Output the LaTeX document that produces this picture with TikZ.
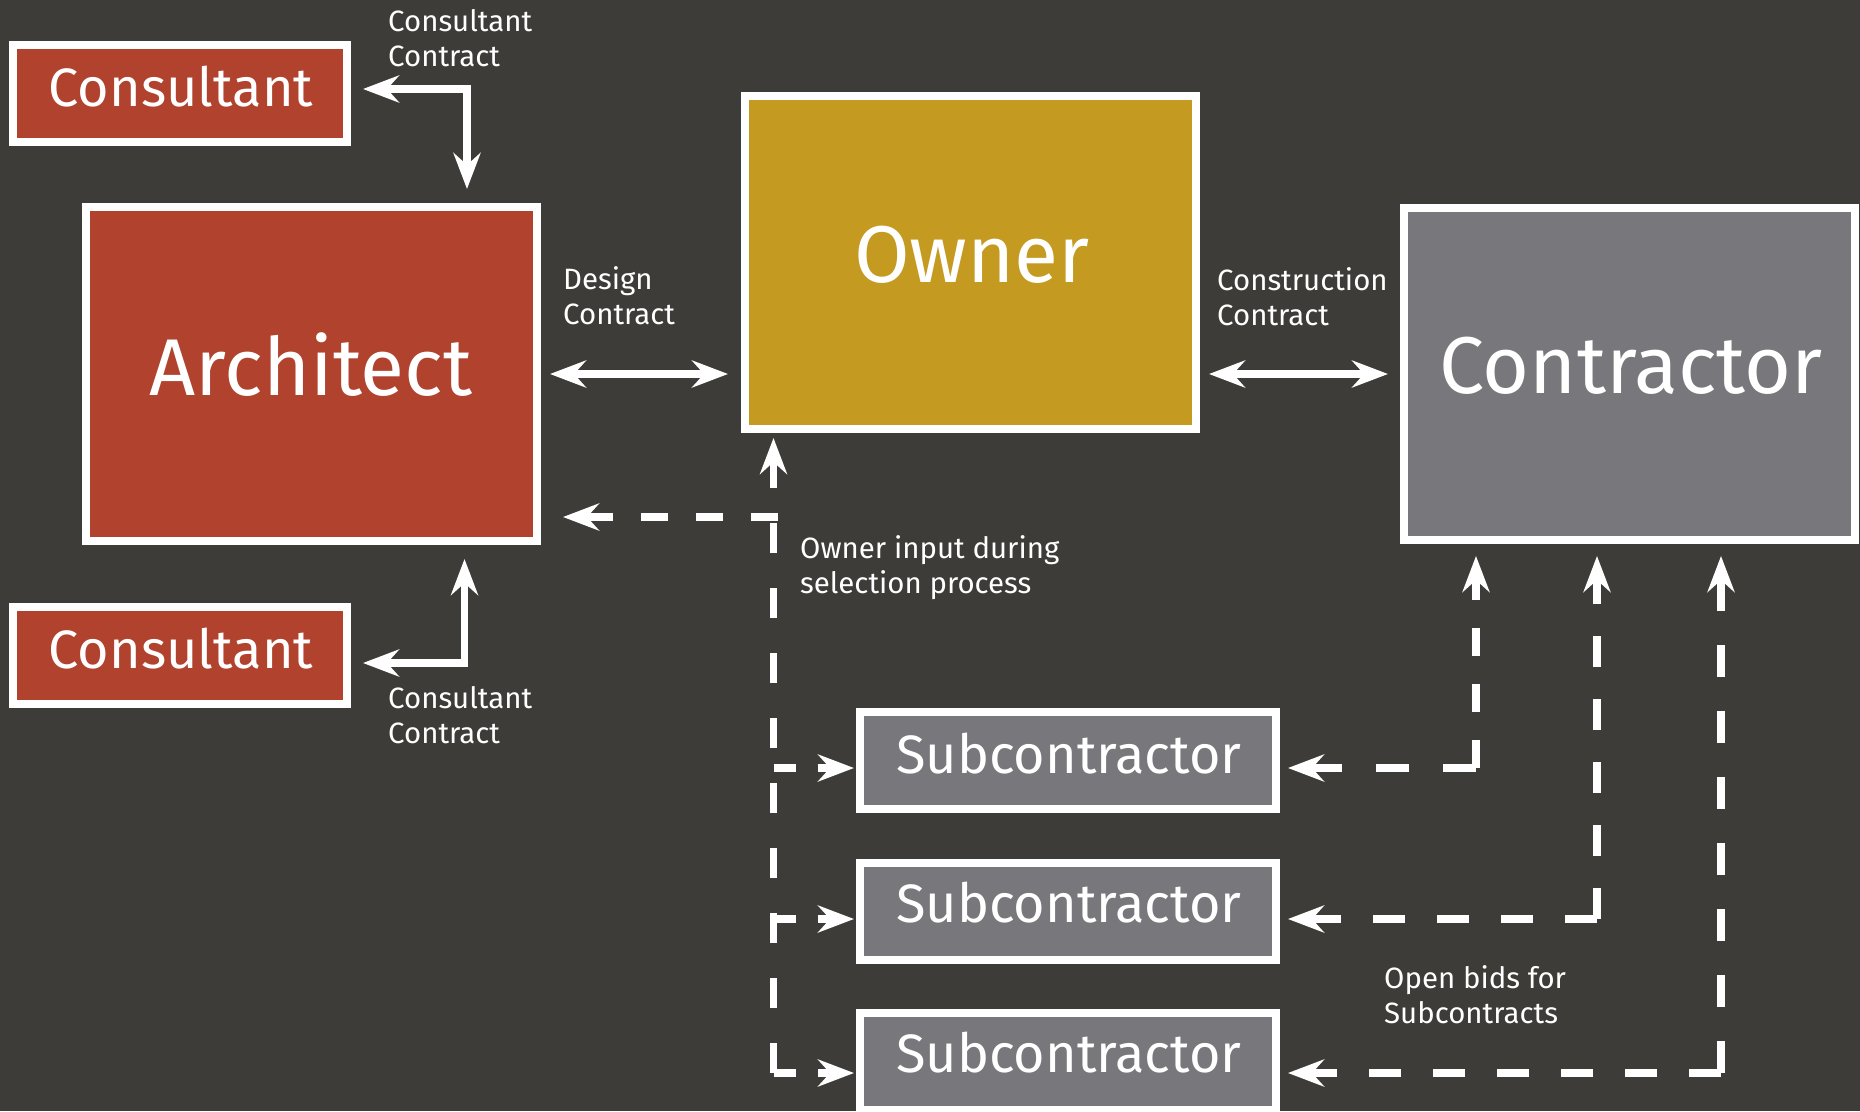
\documentclass[tikz,border=0pt]{standalone}
\usepackage{fontspec}
\setmainfont{Fira Sans}
\usetikzlibrary{arrows.meta,calc}
\definecolor{bg}{HTML}{3D3C38}
\definecolor{archred}{HTML}{B1432E}
\definecolor{ownergold}{HTML}{C59A20}
\definecolor{contgray}{HTML}{78787C}
\begin{document}
\begin{tikzpicture}[x=1pt,y=-1pt,
  >={Stealth[length=36pt,width=27pt,inset=12pt]},
  box/.style={draw=white, line width=8pt, inner sep=0pt, rectangle},
  bigbox/.style={box, minimum width=451pt, minimum height=333pt},
  smallbox/.style={box, minimum height=97pt},
  bigtxt/.style={text=white, font=\fontsize{80.5}{90}\selectfont, anchor=base, inner sep=0pt},
  midtxt/.style={text=white, font=\fontsize{54}{60}\selectfont, anchor=base, inner sep=0pt},
  subtxt/.style={text=white, font=\fontsize{54}{60}\selectfont, anchor=base, inner sep=0pt},
  lbl/.style={text=white, font=\fontsize{29.4}{35}\selectfont, align=left, anchor=base west, inner sep=0pt},
  solidarr/.style={draw=white, line width=7.5pt},
  dashline/.style={draw=white, line width=7.5pt}
]
\fill[bg] (0,0) rectangle (1860,1111);
\useasboundingbox (0,0) rectangle (1860,1111);

% boxes
\node[smallbox, minimum width=334pt, fill=archred] (consTop) at (180,93.5) {};
\node[smallbox, minimum width=334pt, fill=archred] (consBot) at (180,655.5) {};
\node[bigbox, minimum height=334pt, fill=archred] (arch) at (311.5,374) {};
\node[bigbox, fill=ownergold] (owner) at (970.5,262.5) {};
\node[bigbox, minimum height=332pt, fill=contgray] (contractor) at (1629.5,374) {};
\node[smallbox, minimum width=416pt, fill=contgray] (sub1) at (1068,760.5) {};
\node[smallbox, minimum width=416pt, fill=contgray] (sub2) at (1068,911.5) {};
\node[smallbox, minimum width=416pt, fill=contgray] (sub3) at (1068,1061.5) {};

% box texts
\node[midtxt] (consTopT) at (181,106) {Consultant};
\node[midtxt] (consBotT) at (181,668) {Consultant};
\node[bigtxt] (archT) at (311,395) {Architect};
\node[bigtxt] (ownerT) at (972,282) {Owner};
\node[bigtxt] (contractorT) at (1631,393) {Contractor};
\node[subtxt] (sub1T) at (1069,773) {Subcontractor};
\node[subtxt] (sub2T) at (1069,922) {Subcontractor};
\node[subtxt] (sub3T) at (1069,1072) {Subcontractor};

% labels (anchored at the baseline of their last line)
\node[lbl] (cc1) at (388,66) {Consultant\\Contract};
\node[lbl] (cc2) at (388,743) {Consultant\\Contract};
\node[lbl] (dc) at (563,324) {Design\\Contract};
\node[lbl] (ccon) at (1217,325) {Construction\\Contract};
\node[lbl] (oi) at (800,593) {Owner input during\\selection process};
\node[lbl] (ob) at (1384,1023) {Open bids for\\Subcontracts};

% solid arrows
\draw[solidarr, <->, shorten <=12pt, shorten >=14pt] ([yshift=4.5pt]consTop.east) -| ([xshift=155.5pt]arch.north);
\draw[solidarr, <->, shorten <=12pt, shorten >=14pt] ([yshift=-7.5pt]consBot.east) -| ([xshift=153pt]arch.south);
\draw[solidarr, <->, shorten <=9pt, shorten >=13pt] (arch.east) -- (arch.east -| owner.west);
\draw[solidarr, <->, shorten <=9pt, shorten >=12pt] (contractor.west -| owner.east) -- (contractor.west);

% helper coordinates
\coordinate (ovx) at ([xshift=32.5pt]owner.south west);
\coordinate (aw) at ([yshift=-143pt]arch.east);
\coordinate (s1w) at ([yshift=-7.5pt]sub1.west);
\coordinate (s2w) at ([yshift=-7.5pt]sub2.west);
\coordinate (s3w) at ([yshift=-11.5pt]sub3.west);
\coordinate (s1e) at ([yshift=-7.5pt]sub1.east);
\coordinate (s2e) at ([yshift=-7.5pt]sub2.east);
\coordinate (s3e) at ([yshift=-11.5pt]sub3.east);
\coordinate (cx1) at ([xshift=76pt]contractor.south west);
\coordinate (cx2) at ([xshift=197pt]contractor.south west);
\coordinate (cx3) at ([xshift=321pt]contractor.south west);

% owner input (dashed)
\draw[dashline, dash pattern=on 30pt off 35pt, ->, shorten >=5pt] (ovx |- s3w) -- (ovx);
\draw[dashline, dash pattern=on 27pt off 28pt, ->, shorten >=22pt] ($(ovx |- aw)+(4,0)$) -- (aw);
\draw[dashline, dash pattern=on 22pt off 22pt, ->, shorten >=2pt] (ovx |- s1w) -- (s1w);
\draw[dashline, dash pattern=on 22pt off 22pt, ->, shorten >=2pt] (ovx |- s2w) -- (s2w);
\draw[dashline, dash pattern=on 22pt off 22pt, ->, shorten >=2pt] (ovx |- s3w) -- (s3w);

% open bids (dashed)
\draw[dashline, dash pattern=on 28pt off 28pt, ->, shorten >=12pt] (cx1 |- s1e) -- (cx1);
\draw[dashline, dash pattern=on 33pt off 34pt, ->, shorten >=8pt] (cx1 |- s1e) -- (s1e);
\draw[dashline, dash pattern=on 31pt off 32pt, ->, shorten >=12pt] (cx2 |- s2e) -- (cx2);
\draw[dashline, dash pattern=on 32pt off 32pt, ->, shorten >=8pt] (cx2 |- s2e) -- (s2e);
\draw[dashline, dash pattern=on 32pt off 34pt, ->, shorten >=12pt] (cx3 |- s3e) -- (cx3);
\draw[dashline, dash pattern=on 32pt off 32pt, ->, shorten >=8pt] (cx3 |- s3e) -- (s3e);
\end{tikzpicture}
\end{document}
